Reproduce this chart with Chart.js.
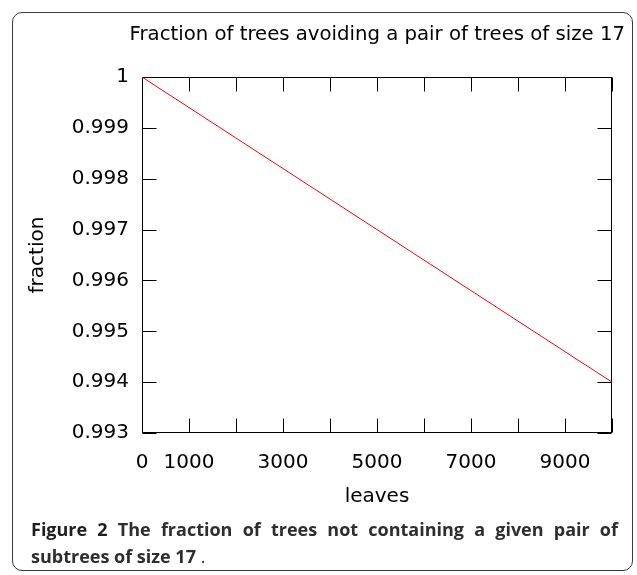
<!DOCTYPE html>
<html><head><meta charset="utf-8">
<script src="https://cdn.jsdelivr.net/npm/chart.js@4/dist/chart.umd.min.js"></script>
<style>
html,body{margin:0;padding:0;background:#fff;}
#wrap{position:relative;width:637px;height:575px;overflow:hidden;background:#fff;}
#frame{position:absolute;left:12px;top:12px;width:621px;height:559px;border:1.5px solid #3a3a3a;border-radius:10px;box-sizing:border-box;}
#c{position:absolute;left:0;top:0;}
.cap{position:absolute;left:31px;width:587px;font-family:"Open Sans",sans-serif;font-size:18px;line-height:27px;color:#2e2e2e;font-weight:700;white-space:nowrap;}
.cap b{font-weight:700;color:#1e1e1e;}
#cap1{top:516px;text-align:justify;text-align-last:justify;white-space:normal;}
#cap2{top:543px;}
.thin{font-weight:400;}
</style></head>
<body>
<div id="wrap">
<div id="frame"></div>
<canvas id="c" width="637" height="575"></canvas>
<div class="cap" id="cap1"><b>Figure 2</b> The fraction of trees not containing a given pair of</div>
<div class="cap" id="cap2">subtrees of size 17 <span class="thin">.</span></div>
</div>
<script>
// ---- data ----
const leaves = [0, 1000, 2000, 3000, 4000, 5000, 6000, 7000, 8000, 9000, 10000];
const fraction = [1.0, 0.9994, 0.9988, 0.9982, 0.9976, 0.997, 0.9964, 0.9958, 0.9952, 0.9946, 0.994];
const xTickValues = [0, 1000, 2000, 3000, 4000, 5000, 6000, 7000, 8000, 9000, 10000];
const xTickLabels = ['0', '1000', '3000', '5000', '7000', '9000'];
const yTickValues = [0.993, 0.994, 0.995, 0.996, 0.997, 0.998, 0.999, 1];
const yTickLabels = ['0.993', '0.994', '0.995', '0.996', '0.997', '0.998', '0.999', '1'];
const chartTitle = 'Fraction of trees avoiding a pair of trees of size 17';
const xTitle = 'leaves';
const yTitle = 'fraction';

const FONT = '"DejaVu Sans", sans-serif';
const TICK_LEN = 14;

const frameTicks = {
  id: 'frameTicks',
  beforeDatasetsDraw(chart) {
    const {ctx, chartArea: a, scales: {x, y}} = chart;
    const L = Math.round(a.left) + 0.5, R = Math.round(a.right) - 0.5;
    const T = Math.round(a.top) + 0.5, B = Math.round(a.bottom) - 0.5;
    ctx.save();
    ctx.strokeStyle = '#000';
    ctx.lineWidth = 1;
    ctx.beginPath();
    xTickValues.forEach(v => {
      const p = Math.round(x.getPixelForValue(v)) + 0.5;
      ctx.moveTo(p, B); ctx.lineTo(p, B - TICK_LEN);
      ctx.moveTo(p, T); ctx.lineTo(p, T + TICK_LEN);
    });
    yTickValues.forEach(v => {
      const p = Math.round(y.getPixelForValue(v)) + 0.5;
      ctx.moveTo(L, p); ctx.lineTo(L + TICK_LEN, p);
      ctx.moveTo(R, p); ctx.lineTo(R - TICK_LEN, p);
    });
    ctx.stroke();
    ctx.strokeRect(L, T, R - L, B - T);
    ctx.restore();
  }
};

new Chart(document.getElementById('c'), {
  type: 'line',
  data: {
    datasets: [{
      data: leaves.map((v, i) => ({x: v, y: fraction[i]})),
      borderColor: '#ff0000',
      borderWidth: 1,
      pointRadius: 0,
      tension: 0,
      fill: false
    }]
  },
  options: {
    responsive: false,
    animation: false,
    events: [],
    layout: {padding: {top: 0, left: 0, right: 12, bottom: 66}},
    plugins: {
      legend: {display: false},
      tooltip: {enabled: false},
      title: {
        display: true,
        text: chartTitle,
        align: 'end',
        color: '#000',
        font: {family: FONT, size: 19.7, weight: 'normal', lineHeight: 1.2},
        padding: {top: 23.5, bottom: 29.9}
      }
    },
    scales: {
      x: {
        type: 'linear',
        min: 0, max: 10000,
        grid: {display: false, drawTicks: false},
        border: {display: false},
        afterBuildTicks: s => { s.ticks = xTickValues.map(v => ({value: v})); },
        afterFit: s => { s.height = 76; },
        ticks: {
          autoSkip: false, maxRotation: 0, minRotation: 0,
          padding: 18, color: '#000',
          font: {family: FONT, size: 20, lineHeight: 1.2},
          callback: v => { const s = String(v); return xTickLabels.includes(s) ? s : ''; }
        },
        title: {
          display: true, text: xTitle, color: '#000',
          font: {family: FONT, size: 20, lineHeight: 1.2},
          padding: {top: 10, bottom: 0}
        }
      },
      y: {
        type: 'linear',
        min: 0.993, max: 1,
        grid: {display: false, drawTicks: false},
        border: {display: false},
        afterBuildTicks: s => { s.ticks = yTickValues.map(v => ({value: v})); },
        afterFit: s => { s.width = 142; },
        ticks: {
          padding: 13, color: '#000',
          font: {family: FONT, size: 20, lineHeight: 1.2},
          callback: v => { const i = yTickValues.indexOf(Math.round(v * 1000) / 1000); return i >= 0 ? yTickLabels[i] : ''; }
        },
        title: {
          display: true, text: yTitle, color: '#000',
          font: {family: FONT, size: 20, lineHeight: 1.2},
          padding: {top: 25.5, bottom: 0}
        }
      },
      y2: {
        type: 'linear',
        position: 'right',
        display: true,
        grid: {display: false, drawTicks: false},
        border: {display: false},
        ticks: {display: false},
        afterFit: s => { s.width = 13; }
      }
    }
  },
  plugins: [frameTicks]
});
</script>
</body></html>
